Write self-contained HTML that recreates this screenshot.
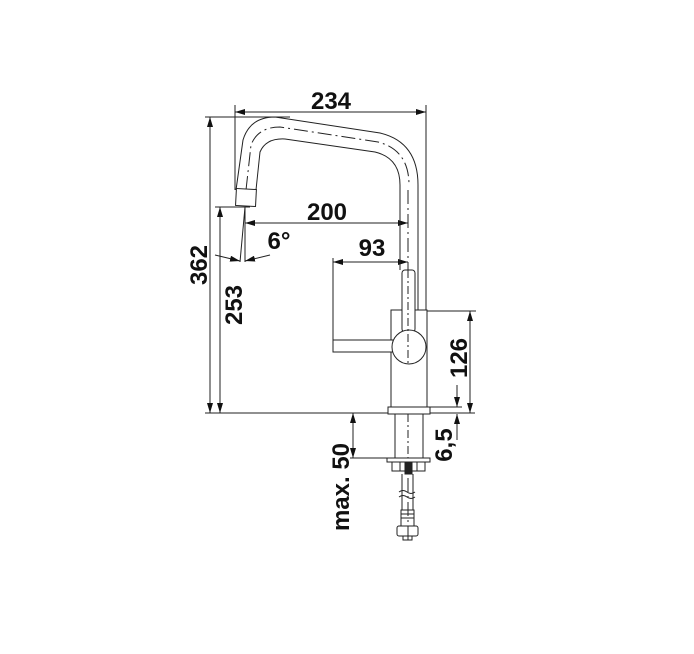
<!DOCTYPE html>
<html><head><style>
html,body{margin:0;padding:0;background:#fff;}
svg{display:block;}
text{font-family:"Liberation Sans",Arial,sans-serif;font-weight:bold;fill:#111;}
</style></head><body>
<svg width="694" height="654" viewBox="0 0 694 654" xmlns="http://www.w3.org/2000/svg">
<defs>
<marker id="a" viewBox="0 0 10 6" refX="10" refY="3" markerWidth="10" markerHeight="6" markerUnits="userSpaceOnUse" orient="auto-start-reverse"><path d="M0,0 L10,3 L0,6 Z" fill="#111"/></marker>
</defs>
<g stroke="#222" stroke-width="1" fill="none">
<line x1="235" y1="105" x2="235" y2="190"/>
<line x1="426" y1="105" x2="426" y2="310"/>
<line x1="205" y1="117" x2="290" y2="117"/>
<line x1="205" y1="413" x2="475" y2="413"/>
<line x1="215" y1="207" x2="250" y2="207"/>
<line x1="426" y1="311" x2="476" y2="311"/>
<line x1="430" y1="407" x2="462" y2="407"/>
<line x1="350" y1="458" x2="395" y2="458"/>
<line x1="333" y1="258" x2="333" y2="340"/>
<line x1="235" y1="112" x2="426" y2="112" marker-start="url(#a)" marker-end="url(#a)"/>
<line x1="210" y1="117" x2="210" y2="413" marker-start="url(#a)" marker-end="url(#a)"/>
<line x1="220" y1="207" x2="220" y2="413" marker-start="url(#a)" marker-end="url(#a)"/>
<line x1="245" y1="223" x2="408" y2="223" marker-start="url(#a)" marker-end="url(#a)"/>
<line x1="333" y1="262" x2="408" y2="262" marker-start="url(#a)" marker-end="url(#a)"/>
<line x1="470" y1="311" x2="470" y2="413" marker-start="url(#a)" marker-end="url(#a)"/>
<line x1="457" y1="385" x2="457" y2="407" marker-end="url(#a)"/>
<line x1="457" y1="440" x2="457" y2="414" marker-end="url(#a)"/>
<line x1="353" y1="413" x2="353" y2="458" marker-start="url(#a)" marker-end="url(#a)"/>
<line x1="245" y1="207" x2="240" y2="262"/>
<line x1="245" y1="207" x2="245" y2="262"/>
<line x1="215" y1="255" x2="240" y2="261" marker-end="url(#a)"/>
<line x1="270" y1="255" x2="245" y2="261" marker-end="url(#a)"/>
<path d="M236,190 L243,140 Q250,117 275,117 L380,133 Q418,142 418,185 L418,310"/>
<path d="M256,190 L260,152 Q266,138 285,139 L375,152 Q400,158 400,185 L400,270"/>
<path d="M246,190 L251,145 Q258,127 280,127 L378,142 Q409,150 409,185" stroke-dasharray="14,4,2,4"/>
<rect x="236" y="189" width="20" height="17" transform="rotate(3 246 197)" fill="#fff"/>
<line x1="408" y1="190" x2="408" y2="540" stroke-dasharray="14,4,2,4"/>
<rect x="391" y="310" width="36" height="97" fill="#fff"/>
<rect x="333" y="340" width="62" height="12" fill="#fff"/>
<rect x="402" y="270" width="13" height="62" rx="3" fill="#fff"/>
<circle cx="409" cy="347" r="17" fill="#fff"/>
<line x1="408" y1="270" x2="408" y2="364" stroke-dasharray="8,3,2,3"/>
<rect x="388" y="407" width="42" height="7" fill="#fff"/>
<rect x="395" y="414" width="28" height="44" fill="#fff"/>
<line x1="408" y1="414" x2="408" y2="458" stroke-dasharray="8,3,2,3"/>
<rect x="387" y="458" width="43" height="4" fill="#fff"/>
<rect x="392" y="462" width="33" height="9" fill="#fff"/>
<line x1="400" y1="462" x2="400" y2="471"/><line x1="417" y1="462" x2="417" y2="471"/>
<rect x="405" y="462" width="7" height="12" fill="#222"/>
<line x1="402" y1="474" x2="402" y2="510"/><line x1="413" y1="474" x2="413" y2="510"/>
<path d="M399,492 q4,-3 8,0 q4,3 8,0 M399,497 q4,-3 8,0 q4,3 8,0"/>
<rect x="401" y="510" width="13" height="16"/>
<line x1="401" y1="514" x2="414" y2="514"/><line x1="401" y1="518" x2="414" y2="518"/>
<rect x="397" y="526" width="21" height="10" rx="2"/>
<rect x="403" y="536" width="9" height="4"/>
</g>
<text x="331" y="109" font-size="24" text-anchor="middle">234</text>
<text x="327" y="220" font-size="24" text-anchor="middle">200</text>
<text x="372" y="256" font-size="24" text-anchor="middle">93</text>
<text x="279" y="249" font-size="24" text-anchor="middle">6°</text>
<text transform="translate(207,265) rotate(-90)" font-size="24" text-anchor="middle">362</text>
<text transform="translate(242,305) rotate(-90)" font-size="24" text-anchor="middle">253</text>
<text transform="translate(467,358) rotate(-90)" font-size="24" text-anchor="middle">126</text>
<text transform="translate(452,445) rotate(-90)" font-size="24" text-anchor="middle">6,5</text>
<text transform="translate(349,487) rotate(-90)" font-size="24" text-anchor="middle">max. 50</text>
</svg>
</body></html>
